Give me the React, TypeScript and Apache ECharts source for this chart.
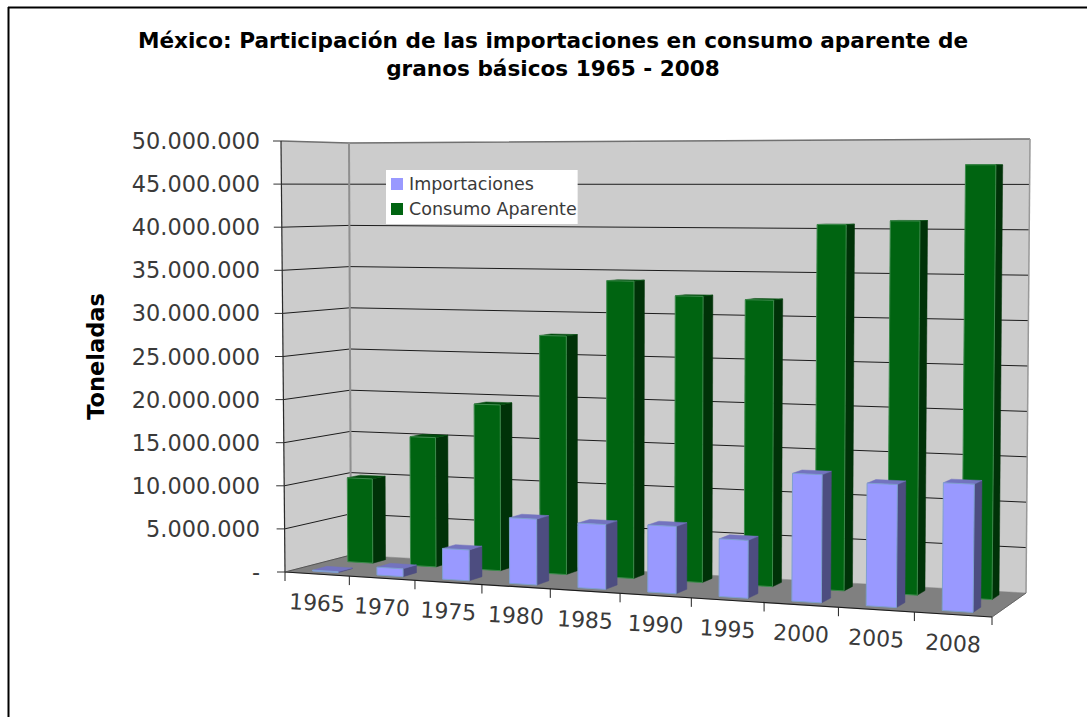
import React, { useEffect, useRef } from "react";
import * as echarts from "echarts";

const categories = ["1965", "1970", "1975", "1980", "1985", "1990", "1995", "2000", "2005", "2008"];
const importaciones = [100000, 900000, 3500000, 7400000, 7200000, 7400000, 6300000, 13800000, 13100000, 13500000];
const consumoAparente = [10000000, 15200000, 19300000, 27500000, 33950000, 32350000, 32050000, 40550000, 41000000, 47150000];
const yTicks = [0, 5000000, 10000000, 15000000, 20000000, 25000000, 30000000, 35000000, 40000000, 45000000, 50000000];

const W = 1087, H = 717;
const GL = 283, GT = 141, GW = 710, GH = 431;

type Pt = [number, number];
// corners of the box in the picture
const floorFL: Pt = [285, 572], floorFR: Pt = [992, 617], floorBR: Pt = [1026, 593], floorBL: Pt = [351, 555];
const topFL: Pt = [281, 141], topFR: Pt = [997, 137], topBR: Pt = [1030, 139], topBL: Pt = [349, 143];
const WARP = 0.11;

const lerp = (a: Pt, b: Pt, t: number): Pt => [a[0] + (b[0] - a[0]) * t, a[1] + (b[1] - a[1]) * t];
function project(u: number, d: number, v: number): Pt {
  const s = u / (1 + WARP - WARP * u);
  const f = lerp(lerp(floorFL, floorFR, s), lerp(floorBL, floorBR, s), d);
  const t = lerp(lerp(topFL, topFR, s), lerp(topBL, topBR, s), d);
  return lerp(f, t, v);
}
const uOf = (api: any, i: number) => (api.coord([i, 0])[0] - GL) / GW;
const vOf = (api: any, val: number) => (GT + GH - api.coord([0, val])[1]) / GH;

function poly(points: Pt[], fill: string, stroke?: string) {
  return {
    type: "polygon",
    shape: { points },
    style: { fill, stroke: stroke ?? fill, lineWidth: stroke ? 1 : 0.5 },
  };
}
function line(points: Pt[], stroke: string, lineWidth = 1) {
  return { type: "polyline", shape: { points }, style: { fill: "none", stroke, lineWidth } };
}

function barRenderer(d0: number, d1: number, front: string, side: string, top: string, edge: string) {
  return (_p: any, api: any) => {
    const i = api.value(0);
    const val = api.value(1);
    const c = uOf(api, i);
    const w = (api.size([1, 0])[0] / GW) * 0.2;
    const u0 = c - w, u1 = c + w;
    const v = vOf(api, val);
    return {
      type: "group",
      children: [
        poly([project(u1, d0, 0), project(u1, d1, 0), project(u1, d1, v), project(u1, d0, v)], side),
        poly([project(u0, d0, v), project(u1, d0, v), project(u1, d1, v), project(u0, d1, v)], top),
        poly([project(u0, d0, 0), project(u1, d0, 0), project(u1, d0, v), project(u0, d0, v)], front, edge),
      ],
    };
  };
}

function boxRenderer(_p: any, api: any) {
  const idx = _p.dataIndex;
  const val = api.value(0);
  const v = vOf(api, val);
  const children: any[] = [];
  if (idx === 0) {
    children.push(
      poly([project(0, 0, 0), project(0, 1, 0), project(0, 1, 1), project(0, 0, 1)], "#cccccc"),
      poly([project(0, 1, 0), project(1, 1, 0), project(1, 1, 1), project(0, 1, 1)], "#cccccc"),
      poly([project(0, 0, 0), project(1, 0, 0), project(1, 1, 0), project(0, 1, 0)], "#808080"),
    );
  }
  if (idx > 0 && idx < yTicks.length - 1) {
    children.push(line([project(0, 0, v), project(0, 1, v), project(1, 1, v)], "#1c1c1c", 1));
  }
  if (idx === yTicks.length - 1) {
    children.push(
      line([project(0, 0, 1), project(0, 1, 1), project(1, 1, 1)], "#707070", 1.5),
      line([project(0, 1, 0), project(0, 1, 1)], "#8f8f8f", 2),
      line([project(1, 1, 0), project(1, 1, 1)], "#999999", 1.5),
      line([project(0, 0, 0), project(0, 0, 1)], "#2a2a2a", 1.2),
      line([project(0, 0, 0), project(1, 0, 0)], "#1c1c1c", 1.2),
      line([project(1, 0, 0), project(1, 1, 0)], "#666666", 1),
      line([project(0, 0, 0), project(0, 1, 0)], "#555555", 1),
    );
  }
  // tick to the left of the front wall edge
  const p = project(0, 0, v);
  children.push(line([[p[0] - 8, p[1]], p], "#333333", 1));
  return { type: "group", children };
}

function tickRenderer(_p: any, api: any) {
  const i = api.value(0);
  const c = uOf(api, i);
  const w = api.size([1, 0])[0] / GW / 2;
  const a = project(c - w, 0, 0);
  const mid = project(c, 0, 0);
  const children: any[] = [
    line([a, [a[0], a[1] + 9]], "#222222", 1),
    {
      type: "text",
      x: mid[0],
      y: mid[1] + 29,
      rotation: -0.055,
      style: {
        text: categories[i],
        font: "22px 'DejaVu Sans'",
        fill: "#3a3a3a",
        align: "center",
        verticalAlign: "middle",
      },
    },
  ];
  if (i === categories.length - 1) {
    const b = project(c + w, 0, 0);
    children.push(line([b, [b[0], b[1] + 8]], "#222222", 1));
  }
  return { type: "group", children };
}

export default function App() {
  const ref = useRef<HTMLDivElement>(null);
  useEffect(() => {
    const chart = echarts.init(ref.current!, null, { renderer: "svg" });
    chart.setOption({
      animation: false,
      backgroundColor: "#ffffff",
      title: {
        text: "México: Participación de las importaciones en consumo aparente de\ngranos básicos 1965 - 2008",
        left: 548,
        top: 21,
        textAlign: "center",
        textStyle: { fontFamily: "DejaVu Sans", fontWeight: "bold", fontSize: 21.6, lineHeight: 28, color: "#000000" },
      },
      legend: {
        data: ["Importaciones", "Consumo Aparente"],
        orient: "vertical",
        left: 386,
        top: 170,
        padding: [5, 1, 6, 5],
        itemGap: 7,
        itemWidth: 12,
        itemHeight: 12,
        icon: "rect",
        backgroundColor: "#ffffff",
        textStyle: { fontFamily: "DejaVu Sans", fontSize: 17.5, color: "#3a3a3a", padding: [0, 0, 0, 1] },
      },
      grid: { left: GL, top: GT, width: GW, height: GH },
      xAxis: {
        type: "category",
        data: categories,
        axisLine: { show: false },
        axisTick: { show: false },
        axisLabel: { show: false },
        splitLine: { show: false },
      },
      yAxis: {
        type: "value",
        min: 0,
        max: 50000000,
        interval: 5000000,
        name: "Toneladas",
        nameLocation: "middle",
        nameRotate: 90,
        nameGap: 176,
        nameTextStyle: { fontFamily: "DejaVu Sans", fontWeight: "bold", fontSize: 22.5, color: "#000000" },
        axisLine: { show: false },
        axisTick: { show: false },
        splitLine: { show: false },
        axisLabel: {
          margin: 23,
          fontFamily: "DejaVu Sans",
          fontSize: 22.4,
          color: "#3a3a3a",
          formatter: (val: number) =>
            val === 0 ? "-" : String(val).replace(/\B(?=(\d{3})+(?!\d))/g, "."),
        },
      },
      graphic: [
        { type: "line", z: 100, shape: { x1: 8, y1: 7.5, x2: W, y2: 7.5 }, style: { stroke: "#000000", lineWidth: 2 } },
        { type: "line", z: 100, shape: { x1: 8.5, y1: 7, x2: 8.5, y2: H }, style: { stroke: "#000000", lineWidth: 2 } },
      ],
      series: [
        {
          type: "custom",
          name: "box",
          z: 1,
          silent: true,
          coordinateSystem: "cartesian2d",
          encode: { y: 0 },
          data: yTicks.map((t) => [t]),
          renderItem: boxRenderer,
        },
        {
          type: "custom",
          name: "ticks",
          z: 2,
          silent: true,
          coordinateSystem: "cartesian2d",
          encode: { x: 0 },
          data: categories.map((_c, i) => [i]),
          renderItem: tickRenderer,
        },
        {
          type: "custom",
          name: "Consumo Aparente",
          z: 3,
          itemStyle: { color: "#006411" },
          coordinateSystem: "cartesian2d",
          encode: { x: 0, y: 1 },
          data: consumoAparente.map((v, i) => [i, v]),
          renderItem: barRenderer(0.67, 0.87, "#006411", "#003208", "#004b0d", "#3d8a4c"),
        },
        {
          type: "custom",
          name: "Importaciones",
          z: 4,
          itemStyle: { color: "#9999ff" },
          coordinateSystem: "cartesian2d",
          encode: { x: 0, y: 1 },
          data: importaciones.map((v, i) => [i, v]),
          renderItem: barRenderer(0.13, 0.35, "#9999ff", "#4d4d80", "#7373bf", "#7f9fd0"),
        },
      ],
    });
    return () => chart.dispose();
  }, []);
  return <div ref={ref} style={{ position: "fixed", left: 0, top: 0, width: W, height: H }} />;
}
